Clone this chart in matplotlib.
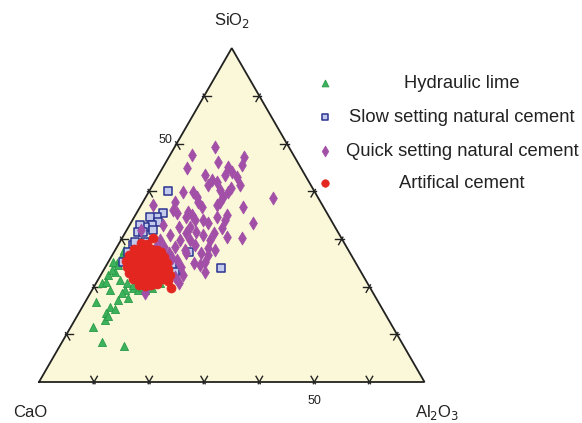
import numpy as np
import matplotlib
matplotlib.use("Agg")
import matplotlib.pyplot as plt

# ---- data (wt%), SiO2 and Al2O3; CaO is the remainder ----
span = 70.0  # displayed sub-triangle: CaO 30..100, SiO2 0..70, Al2O3 0..70
tick_values = [10, 20, 30, 40, 50, 60]
tick_labels_shown = {50: "50"}

series_names = ["Hydraulic lime", "Slow setting natural cement",
                "Quick setting natural cement", "Artifical cement"]

lime_sio2 = [16.8, 15.8, 14.5, 13.0, 15.3, 11.5, 8.4, 7.5, 19.3, 18.7, 17.6, 19.7, 19.3, 19.3,
             19.7, 22.4, 20.8, 23.1, 27.0, 24.9, 23.5, 20.8, 26.2, 25.2, 24.5, 21.4, 20.8, 20.3,
             19.9, 19.3, 17.2, 13.8, 21.0, 27.7]
lime_al2o3 = [1.9, 5.0, 5.0, 5.5, 6.2, 4.1, 7.2, 11.7, 6.0, 5.7, 7.4, 7.2, 8.3, 9.6,
              10.6, 1.3, 1.0, 2.2, 1.8, 1.7, 1.5, 11.6, 2.9, 0.8, 2.1, 4.0, 5.6, 6.9,
              8.8, 3.2, 5.7, 5.6, 1.7, 1.6]

slow_sio2 = [40.0, 35.4, 34.6, 34.6, 33.5, 32.9, 32.5, 32.9, 31.4, 31.4, 31.9, 28.7, 27.2,
             26.0, 25.2, 27.7, 23.5, 24.5, 23.9, 27.2, 23.1, 29.3, 29.3]
slow_al2o3 = [3.4, 4.8, 4.1, 2.9, 4.9, 4.1, 3.0, 1.9, 2.3, 3.2, 4.7, 2.7, 2.6,
              3.5, 2.7, 3.9, 13.3, 11.9, 21.1, 13.6, 13.1, 2.8, 4.6]

quick_sio2 = [49.3, 47.6, 46.1, 44.9, 45.1, 44.0, 43.0, 45.5, 47.2, 43.4, 42.3, 41.9, 41.3,
              40.2, 41.3, 39.8, 38.8, 37.7, 37.1, 39.8, 38.8, 37.7, 36.7, 39.8, 37.7, 37.1,
              36.1, 35.6, 35.0, 36.7, 38.6, 35.0, 34.6, 35.4, 34.6, 32.5, 32.5, 31.2, 34.0,
              34.0, 33.3, 30.8, 34.0, 33.3, 30.2, 28.1, 25.2, 24.9, 27.0, 28.3, 27.0, 24.9,
              24.1, 20.8, 18.7, 22.0, 25.6, 27.0, 26.6, 30.4, 31.2, 28.3, 28.3, 31.9, 29.8,
              29.8, 28.7, 30.8, 29.8, 27.7, 31.4, 26.0, 26.0, 24.5, 29.8, 27.7, 22.4, 19.9,
              32.9, 43.4, 40.7, 32.3, 23.1]
quick_al2o3 = [7.3, 4.0, 9.5, 4.4, 11.8, 13.0, 14.5, 14.1, 13.6, 12.1, 10.3, 11.4, 10.0,
               12.8, 15.9, 14.4, 14.0, 14.0, 13.8, 8.1, 9.3, 10.0, 11.3, 6.3, 5.9, 2.1,
               6.3, 9.3, 10.3, 18.7, 23.2, 16.6, 15.0, 7.4, 9.4, 11.2, 9.2, 11.1, 11.3,
               12.8, 14.0, 14.4, 16.8, 22.2, 21.8, 16.6, 17.5, 15.7, 13.2, 10.6, 10.1, 10.6,
               13.7, 15.0, 9.9, 13.7, 12.3, 15.9, 17.4, 18.9, 16.2, 8.6, 7.1, 2.6, 10.7,
               12.5, 14.0, 8.4, 7.1, 12.7, 12.8, 11.2, 9.0, 17.0, 16.2, 18.1, 15.0, 9.7,
               6.1, 8.4, 14.5, 17.1, 18.6]

art_sio2 = [29.1, 28.9, 30.2, 27.9, 27.7, 28.1, 27.9, 27.7, 27.2, 26.6, 26.4, 26.8, 26.6,
            26.4, 26.6, 26.2, 25.4, 25.2, 25.6, 25.4, 25.2, 25.4, 25.2, 24.9, 24.1, 23.9,
            24.3, 24.1, 23.9, 24.1, 23.9, 23.7, 22.8, 22.6, 23.1, 22.8, 22.6, 22.8, 22.6,
            22.4, 21.6, 21.4, 21.8, 21.6, 21.4, 21.6, 21.2, 20.3, 20.1, 20.3, 20.5, 19.7]
art_al2o3 = [4.0, 5.2, 5.6, 3.3, 4.3, 5.2, 6.4, 7.6, 8.6, 3.0, 4.2, 5.1, 6.3,
             7.3, 8.3, 9.6, 3.1, 4.3, 5.2, 6.4, 7.6, 8.5, 9.7, 10.8, 3.9, 5.1,
             6.0, 7.2, 8.4, 9.4, 10.6, 11.6, 4.9, 6.1, 7.0, 8.2, 9.4, 10.4, 11.6,
             12.6, 6.3, 7.5, 8.3, 9.5, 10.7, 11.7, 12.8, 8.0, 9.2, 10.2, 11.2, 14.1]

H = np.sqrt(3) / 2


def tern(sio2, al2o3):
    s = np.asarray(sio2, float) / span
    a = np.asarray(al2o3, float) / span
    return a + s / 2, s * H


W_PX, H_PX = 582, 423
fig = plt.figure(figsize=(W_PX / 100, H_PX / 100), dpi=100)
fig.patch.set_facecolor("white")
x0, y0, tw = 39, 382, 385.5
ax = fig.add_axes([x0 / W_PX, (H_PX - y0) / H_PX, tw / W_PX, tw * H / H_PX])
ax.set_xlim(0, 1)
ax.set_ylim(0, H)
ax.axis("off")

tri_x = [0, 1, 0.5, 0]
tri_y = [0, 0, H, 0]
ax.fill(tri_x, tri_y, color="#FAF8D8", zorder=0, clip_on=False)
ax.plot(tri_x, tri_y, color="#222222", lw=1.3, zorder=1, clip_on=False,
        solid_joinstyle="miter")

# tick marks along the grid directions
L = 0.017
d_left = np.array([0.5, H])      # direction parallel to left side
d_right = np.array([-0.5, H])    # direction parallel to right side
d_h = np.array([1.0, 0.0])


def tick(px, py, dirs):
    for d in dirs:
        ax.plot([px - 0.3 * L * d[0], px + L * d[0]], [py - 0.3 * L * d[1], py + L * d[1]],
                color="#222222", lw=1.0, clip_on=False, zorder=1)


for v in tick_values:
    tick(*tern(0, v), (d_left, d_right))            # bottom (Al2O3)
    tick(*tern(v, 0), (d_h, -d_right))              # left (SiO2)
    tick(*tern(v, span - v), (-d_h, -d_left))       # right side

# tick labels
for v, lab in tick_labels_shown.items():
    px, py = tern(v, 0)
    ax.text(px - 0.03, py + 0.008, lab, ha="center", va="center", fontsize=9,
            family="Liberation Sans", color="#222222")
    px, py = tern(0, v)
    ax.text(px, py - 0.05, lab, ha="center", va="center", fontsize=9,
            family="Liberation Sans", color="#222222")

# vertex labels
fig.text(232 / W_PX, 1 - 20 / H_PX, "SiO$_2$", ha="center", va="center", fontsize=12,
         family="Liberation Sans", color="#222222")
fig.text(30 / W_PX, 1 - 412 / H_PX, "CaO", ha="center", va="center", fontsize=12,
         family="Liberation Sans", color="#222222")
fig.text(437 / W_PX, 1 - 412 / H_PX, "Al$_2$O$_3$", ha="center", va="center", fontsize=12,
         family="Liberation Sans", color="#222222")

styles = [
    dict(marker="^", s=34, c="#3DB25C", edgecolors="#2A9A48", linewidths=0.6),
    dict(marker="s", s=26, c="#C3CAEC", edgecolors="#2B3490", linewidths=1.1),
    dict(marker="d", s=44, c="#A24FA8", edgecolors="#A24FA8", linewidths=0.5),
    dict(marker="o", s=42, c="#E3261F", edgecolors="#E3261F", linewidths=0.5),
]
data = [(lime_sio2, lime_al2o3), (slow_sio2, slow_al2o3),
        (quick_sio2, quick_al2o3), (art_sio2, art_al2o3)]
for i, ((s_, a_), st) in enumerate(zip(data, styles)):
    xx, yy = tern(s_, a_)
    ax.scatter(xx, yy, zorder=3 + i, clip_on=False, **st)

# legend drawn manually
leg_y = [83, 117, 151, 183]
for name, st, ly in zip(series_names, styles, leg_y):
    lst = dict(st)
    lst["s"] = lst["s"] * 0.7
    ax.scatter([(325 - x0) / tw], [(y0 - ly) / tw], clip_on=False, zorder=10, **lst)
    fig.text(462 / W_PX, 1 - ly / H_PX, name, ha="center", va="center", fontsize=13.2,
             family="Liberation Sans", color="#222222")

fig.savefig("out.png", dpi=100, facecolor="white")
